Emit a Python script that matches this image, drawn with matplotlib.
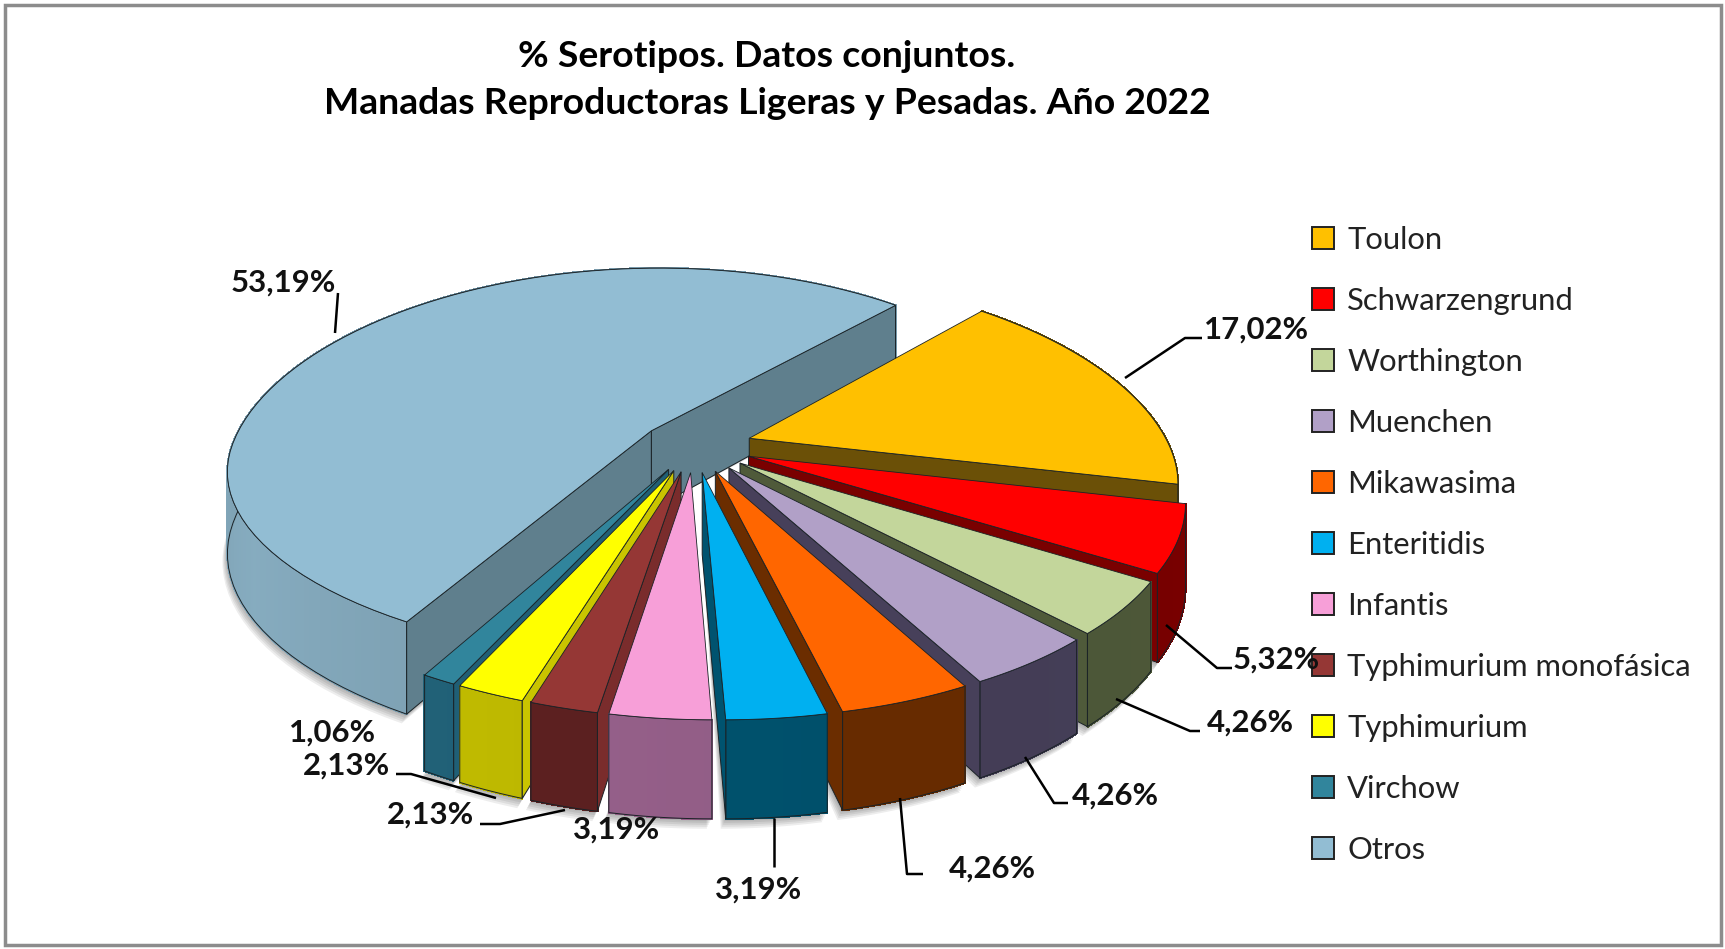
import numpy as np
import matplotlib
matplotlib.use("Agg")
import matplotlib.pyplot as plt
from matplotlib.patches import Patch, Rectangle

plt.rcParams["font.family"] = ["Lato", "DejaVu Sans"]

names = ["Toulon", "Schwarzengrund", "Worthington", "Muenchen", "Mikawasima", "Enteritidis",
         "Infantis", "Typhimurium monofásica", "Typhimurium", "Virchow", "Otros"]
values = [17.02, 5.32, 4.26, 4.26, 4.26, 3.19, 3.19, 2.13, 2.13, 1.06, 53.19]
top_colors = ["#FFC000", "#FF0000", "#C3D69B", "#B1A0C7", "#FF6600", "#00B0F0",
              "#F79FD8", "#953735", "#FFFF00", "#31859C", "#92BDD3"]
wall_colors = ["#6B5007", "#7A0000", "#4F5A3A", "#47405A", "#6B2D00", "#00536F",
               "#96608A", "#5C2020", "#BDB800", "#205F75", "#7C9FB1"]
face_colors = ["#6B5007", "#7A0000", "#4F5A3A", "#47405A", "#6B2D00", "#00536F",
               "#96608A", "#7A2C2C", "#C9C400", "#205F75", "#5F7F8D"]
draw_order = [10, 0, 1, 2, 3, 4, 9, 8, 7, 6, 5]

label_texts = ["17,02%", "5,32%", "4,26%", "4,26%", "4,26%", "3,19%", "3,19%", "2,13%", "2,13%", "1,06%", "53,19%"]
label_pos = [(1257, 330), (1276, 660), (1250, 723), (1115, 796), (992, 869), (759, 890),
             (617, 830), (430, 815), (347, 766), (333, 733), (283, 283)]
leaders = [
    [(1125, 378), (1185, 338), (1202, 338)],
    [(1166, 625), (1217, 668), (1232, 668)],
    [(1116, 699), (1190, 731), (1200, 731)],
    [(1025, 757), (1054, 803), (1068, 803)],
    [(900, 798), (907, 874), (923, 874)],
    [(774, 818), (774, 867)],
    [],
    [(565, 810), (500, 824), (480, 824)],
    [(496, 798), (411, 774), (396, 774)],
    [],
    [(335, 333), (338, 293)],
]

# fake 3d view of the disc, in image pixels
CX, CY = 696, 446
RX, RY = 420, 195
PERSP_X = 0.22
PERSP_Y = 0.17
DEPTH = 80
EXPLODE = 0.134
START = 48
SKEW = 34


def project(x, y, drop=0.0):
    x = np.asarray(x, dtype=float)
    y = np.asarray(y, dtype=float)
    # front left of the pie sits further right in the picture than a plain projection gives
    skew = SKEW * np.clip(-y, 0, None) ** 2 * (0.5 - x)
    s = 1 + PERSP_Y * y
    return CX + RX * x / (1 + PERSP_X * y) + skew, CY - RY * y / s + drop / s


def slice_outline(a1, a2, offset, drop=0.0, n=80):
    t = np.radians(np.linspace(a1, a2, n))
    return project(np.cos(t) + offset[0], np.sin(t) + offset[1], drop)


def shade(color, f):
    r, g, b = matplotlib.colors.to_rgb(color)
    return min(r * f, 1), min(g * f, 1), min(b * f, 1)


def draw_slice(ax, a1, a2, offset, top, wall, face, z):
    ox, oy = offset
    edge = "#1a2226"
    # outer wall with a light gradient
    n = max(int(abs(a2 - a1)), 4)
    ang = np.linspace(a1, a2, n + 1)
    for i in range(n):
        xs0, ys0 = slice_outline(ang[i], ang[i + 1], offset, n=3)
        xs1, ys1 = slice_outline(ang[i + 1], ang[i], offset, DEPTH, n=3)
        f = 1.08 - 0.12 * abs(np.cos(np.radians((ang[i] + ang[i + 1]) / 2 + 60)))
        ax.fill(np.r_[xs0, xs1], np.r_[ys0, ys1], facecolor=shade(wall, f), edgecolor=shade(wall, f),
                linewidth=1.0, antialiased=False, zorder=z)
    xs0, ys0 = slice_outline(a1, a2, offset)
    xs1, ys1 = slice_outline(a2, a1, offset, DEPTH)
    ax.fill(np.r_[xs0, xs1], np.r_[ys0, ys1], facecolor="none", edgecolor=edge, linewidth=0.7, zorder=z + 0.1)
    # radial faces, only those turned to the viewer
    for ang_f, normal in ((a1, a1 + 90), (a2, a2 - 90)):
        if np.sin(np.radians(normal)) >= 0:
            continue
        c = np.cos(np.radians(ang_f)) + ox
        s = np.sin(np.radians(ang_f)) + oy
        fx0, fy0 = project([ox, c], [oy, s])
        fx1, fy1 = project([c, ox], [s, oy], DEPTH)
        ax.fill(np.r_[fx0, fx1], np.r_[fy0, fy1], facecolor=face, edgecolor=edge, linewidth=0.7, zorder=z + 0.2)
    # top
    px, py = project([ox], [oy])
    ax.fill(np.r_[px, xs0], np.r_[py, ys0], facecolor=top, edgecolor=edge, linewidth=0.6, zorder=z + 0.3)


def main():
    fig = plt.figure(figsize=(17.25, 9.49), dpi=100)
    ax = fig.add_axes([0, 0, 1, 1])
    ax.set_xlim(0, 1725)
    ax.set_ylim(949, 0)
    ax.axis("off")

    ax.add_patch(Rectangle((5, 5), 1716, 940, facecolor="white", edgecolor="#8c8c8c", linewidth=2.5, zorder=1))

    bounds = START - np.cumsum([0] + values) * 360 / sum(values)
    spans = {}
    for i in range(len(values)):
        a1, a2 = bounds[i], bounds[i + 1]
        mid = np.radians((a1 + a2) / 2)
        spans[i] = (a1, a2, (EXPLODE * np.cos(mid), EXPLODE * np.sin(mid)))

    # soft shadow below the pie
    for i in draw_order:
        a1, a2, offset = spans[i]
        cx0, cy0 = project([offset[0]], [offset[1]], DEPTH)
        for step in range(1, 6):
            xs, ys = slice_outline(a1, a2, offset, DEPTH + step * 1.6)
            ax.fill(np.r_[cx0, xs - step], np.r_[cy0, ys], facecolor="black", alpha=0.07,
                    edgecolor="none", zorder=3)

    z = 5
    for i in draw_order:
        a1, a2, offset = spans[i]
        draw_slice(ax, a1, a2, offset, top_colors[i], wall_colors[i], face_colors[i], z)
        z += 1

    for i in range(len(values)):
        if leaders[i]:
            ax.plot(*zip(*leaders[i]), color="black", linewidth=1.8, zorder=z, solid_capstyle="butt")

    handles = [Patch(facecolor=c, edgecolor="#222222", linewidth=1.4) for c in top_colors]
    leg = ax.legend(handles, names, loc="upper left", bbox_to_anchor=(1312, 226), bbox_transform=ax.transData,
                    frameon=False, fontsize=22.3, handlelength=0.72, handleheight=0.72, handletextpad=0.42,
                    labelspacing=1.065, borderpad=0, borderaxespad=0, labelcolor="#222222")
    leg.set_zorder(z)

    for txt, pos in zip(label_texts, label_pos):
        ax.text(pos[0], pos[1], txt, ha="center", va="center", fontsize=22.4, fontweight="bold",
                color="#111111", zorder=z + 1)

    ax.text(767, 56, "% Serotipos. Datos conjuntos.", ha="center", va="center", fontsize=26.9,
            fontweight="bold", color="black", zorder=z)
    ax.text(767, 103, "Manadas Reproductoras Ligeras y Pesadas. Año 2022", ha="center", va="center",
            fontsize=26.9, fontweight="bold", color="black", zorder=z)

    fig.savefig("out.png", dpi=100)
    plt.close(fig)


if __name__ == "__main__":
    main()
